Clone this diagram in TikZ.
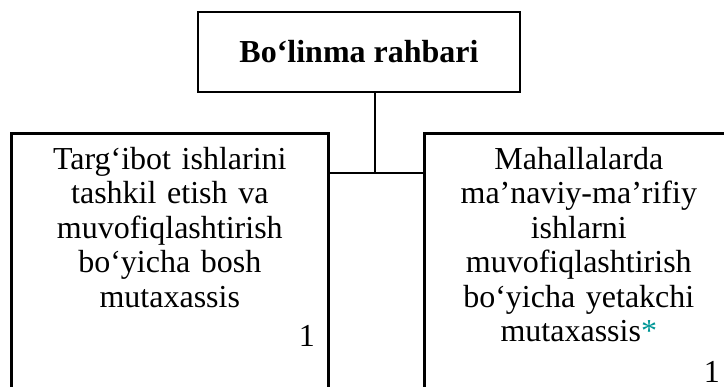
\documentclass[tikz,border=0pt]{standalone}
\usepackage{fontspec}
\setmainfont{Liberation Serif}
\definecolor{starcol}{RGB}{0,150,150}
\begin{document}
\begin{tikzpicture}[x=1pt, y=-1pt,
  unit/.style={draw, line width=2.6pt, inner sep=0pt},
  label/.style={inner sep=0pt, text width=300pt, align=center,
    font=\fontsize{32}{34.5}\selectfont},
  link/.style={line width=2pt}]
  \useasboundingbox (0,0) rectangle (724,387);
  \clip (0,0) rectangle (724,387);
  \node [unit, minimum width=322pt, minimum height=80pt,
    font=\fontsize{32}{34.5}\selectfont\bfseries] (head) at (359,52) {Bo‘linma rahbari};
  \node [unit, anchor=north west, minimum width=317pt, minimum height=300pt] (left) at (10,132) {};
  \node [unit, anchor=north west, minimum width=309pt, minimum height=300pt] (right) at (423,132) {};
  \node [label, anchor=north] (lefttext) at ([yshift=-13pt]left.north)
    {\strut Targ‘ibot ishlarini\\ tashkil etish va\\ muvofiqlashtirish\\ bo‘yicha bosh\\ mutaxassis};
  \node [label, anchor=north] (righttext) at ([yshift=-13pt]right.north)
    {\strut Mahallalarda\\ ma’naviy-ma’rifiy\\ ishlarni\\ muvofiqlashtirish\\ bo‘yicha yetakchi\\ mutaxassis\textcolor{starcol}{*}};
  \node [anchor=base east, inner sep=0pt, font=\fontsize{32}{34.5}\selectfont] (leftnum) at (315,347) {1};
  \node [anchor=base east, inner sep=0pt, font=\fontsize{32}{34.5}\selectfont] (rightnum) at (720,383) {1};
  \coordinate (joint) at (375,173);
  \draw [link] (joint |- head.south) -- (joint);
  \draw [link] (left.east |- joint) -- (right.west |- joint);
\end{tikzpicture}
\end{document}
